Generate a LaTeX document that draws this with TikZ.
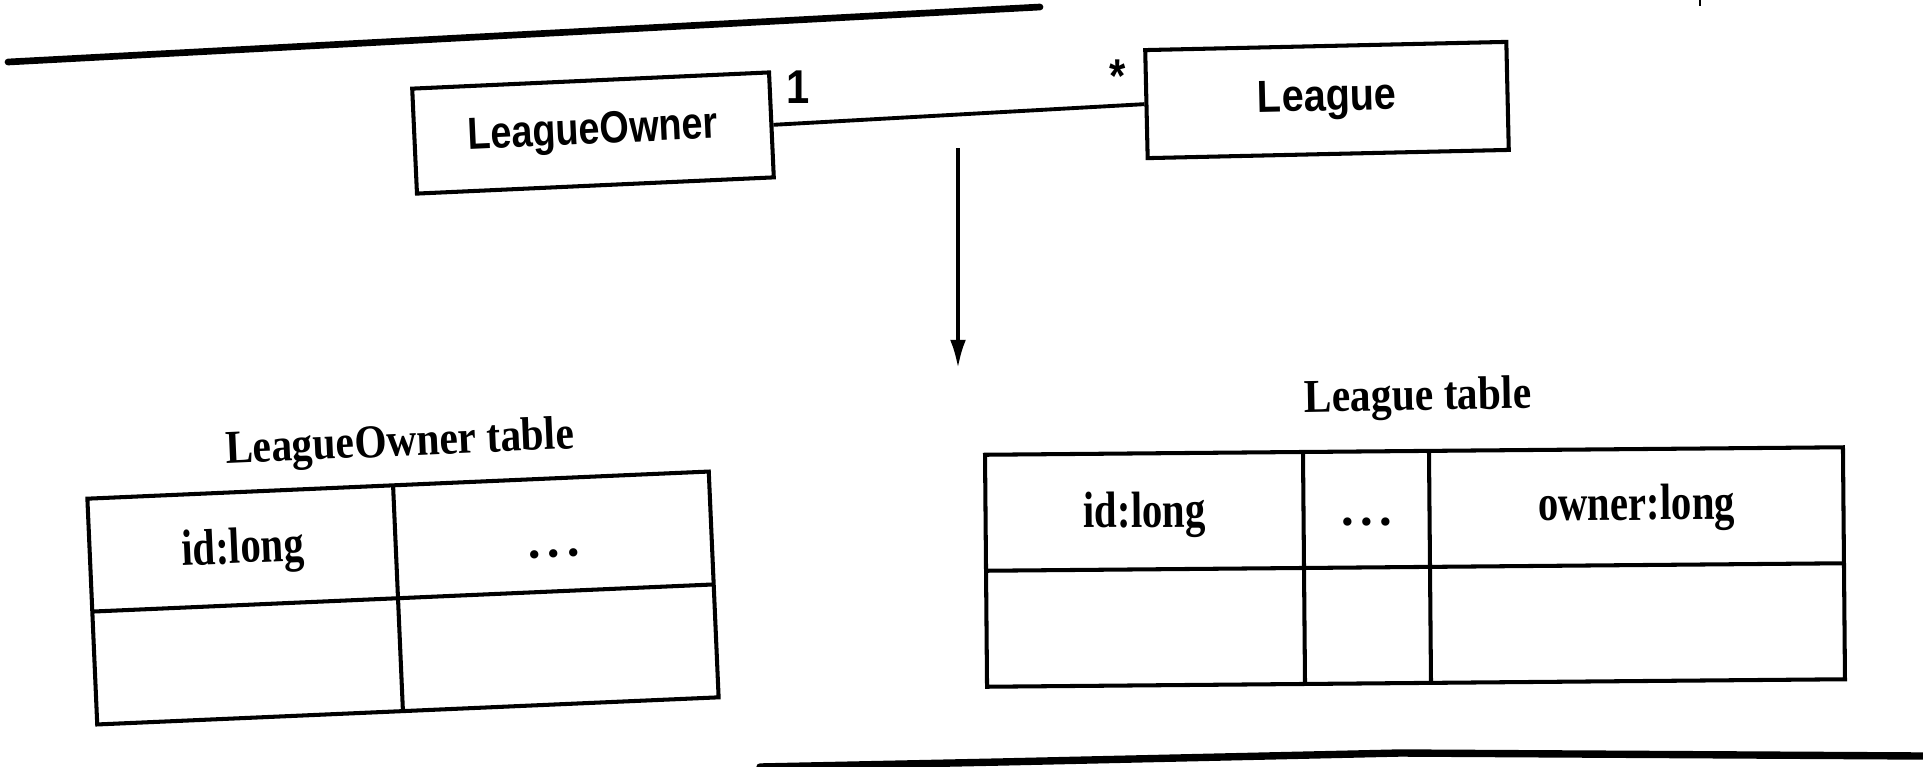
\documentclass[tikz,border=0pt]{standalone}
\usepackage{fontspec}
\usepackage{graphicx}
\setmainfont{Liberation Serif}
\newfontfamily\clsfont{Liberation Sans}
\usetikzlibrary{arrows.meta}
\newcommand\condA[1]{\scalebox{0.88}[1]{#1}}
\newcommand\condC[1]{\scalebox{0.84}[1]{#1}}
\newcommand\condB[1]{\scalebox{0.80}[1]{#1}}
\newcommand\tdots{.\kern1.8pt.\kern1.8pt.}
\begin{document}
\begin{tikzpicture}[x=0.01cm,y=-0.01cm,
  classbox/.style={draw,line width=1.15pt,minimum width=3.57cm,minimum height=1.05cm,inner sep=0pt,
    font=\clsfont\bfseries\fontsize{12.8}{15}\selectfont},
  multlabel/.style={inner sep=0pt,anchor=base,font=\clsfont\bfseries\fontsize{13.5}{15}\selectfont},
  tblline/.style={line width=1.15pt},
  tbltitle/.style={inner sep=0pt,font=\bfseries\fontsize{13.4}{16}\selectfont},
  celltext/.style={inner sep=0pt,font=\bfseries\fontsize{14.5}{17}\selectfont},
  rule/.style={line width=1.9pt,line cap=round,line join=round},
  assoc/.style={line width=1.1pt},
  depend/.style={line width=1pt,-{Latex[length=8pt,width=4.5pt]}}
]
\useasboundingbox (0,0) rectangle (1923,766);
\fill[white] (0,0) rectangle (1923,766);

% page rules
\draw[rule] (8,62) -- (1040,7);
\draw[rule,line width=2.1pt] (760,767) -- (1000,762) -- (1400,753) -- (1923,756);
\draw[line width=0.4pt] (1700,0) -- (1700,6);

% class diagram
\node[classbox,rotate=2.6] (LO) at (593,133) {\condC{LeagueOwner}};
\node[classbox,rotate=1.3,minimum width=3.61cm,minimum height=1.08cm] (L) at (1327,100) {\condA{League}};
\draw[assoc] (LO.east) -- (L.west);
\node[multlabel] (m1) at (798,103) {\condA{1}};
\node[multlabel] (m2) at (1118,92) {\condA{*}};

% mapping arrow
\coordinate (arrS) at (958,148);
\coordinate (arrE) at (958,368);
\draw[depend] (arrS) -- (arrE);

% LeagueOwner table
\node[tbltitle,rotate=2.5] (lot) at (400,445) {\condA{LeagueOwner table}};
\begin{scope}[shift={(403,598)},rotate=2.5,transform shape]
  \draw[tblline] (-311,-113) rectangle (311,113);
  \draw[tblline] (-311,0) -- (311,0);
  \draw[tblline] (-5,-113) -- (-5,113);
  \node[celltext] (loid) at (-158,-54) {\condB{\strut id:long}};
  \node[celltext] (lodots) at (153,-46) {\strut\tdots};
\end{scope}

% League table
\node[tbltitle,rotate=1] (lt) at (1418,399) {\condA{League table}};
\begin{scope}[shift={(1415,567)},rotate=0.5,transform shape]
  \draw[tblline] (-429,-116) rectangle (429,116);
  \draw[tblline] (-429,0) -- (429,0);
  \draw[tblline] (-111,-116) -- (-111,116);
  \draw[tblline] (15,-116) -- (15,116);
  \node[celltext] (lid) at (-270,-54) {\condB{\strut id:long}};
  \node[celltext] (ldots) at (-48,-54) {\strut\tdots};
  \node[celltext] (lown) at (222,-57) {\condB{\strut owner:long}};
\end{scope}
\end{tikzpicture}
\end{document}
